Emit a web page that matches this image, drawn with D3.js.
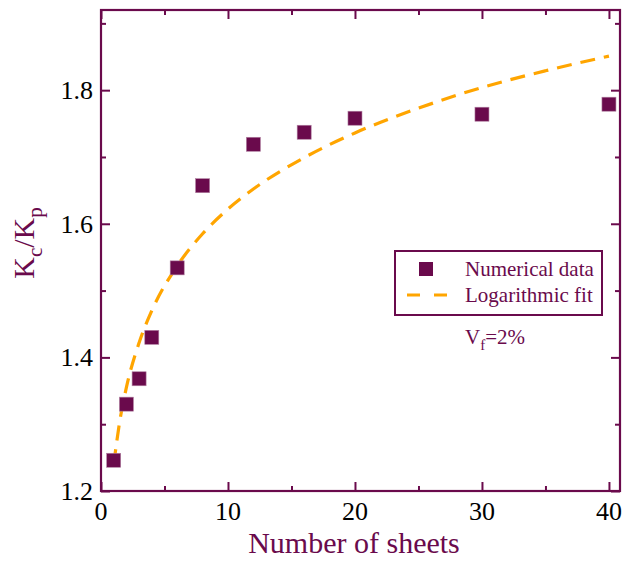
<!DOCTYPE html>
<html><head><meta charset="utf-8">
<script src="https://cdn.jsdelivr.net/npm/d3@7"></script>
<style>body{margin:0;background:#fff}svg{display:block}</style>
</head><body>
<script>
const sheets = [1, 2, 3, 4, 6, 8, 12, 16, 20, 30, 40];
const ratio = [1.246, 1.330, 1.368, 1.430, 1.534, 1.657, 1.719, 1.737, 1.758, 1.764, 1.779];
const fitX = [1, 1.5, 2, 3, 4, 6, 8, 10, 12, 16, 20, 25, 30, 35, 40];
const fitY = [1.240, 1.307, 1.355, 1.422, 1.470, 1.537, 1.585, 1.622, 1.652, 1.699, 1.736, 1.773, 1.804, 1.829, 1.851];
const xTicks = [0, 10, 20, 30, 40];
const xMinor = [5, 15, 25, 35];
const yTicks = [1.2, 1.4, 1.6, 1.8];
const yMinor = [1.3, 1.5, 1.7, 1.9];

const W = 626, H = 564;
const M = {l: 101, t: 10, r: 620, b: 491};
const col = "#6a0a4c", orange = "#ffa500";
const FONT = '"Liberation Serif", "Times New Roman", monospace';
const x = d3.scaleLinear().domain([0, 40.87]).range([M.l, M.r]);
const y = d3.scaleLinear().domain([1.2, 1.92]).range([M.b, M.t]);

const svg = d3.select("body").append("svg").attr("width", W).attr("height", H);

// fit curve
const line = d3.line().x((d, i) => x(fitX[i])).y(d => y(d)).curve(d3.curveMonotoneX);
svg.append("path").datum(fitY).attr("d", line).attr("fill", "none")
  .attr("stroke", orange).attr("stroke-width", 3.2).attr("stroke-dasharray", "15,9");

// data squares
const s = 14;
svg.selectAll("rect.pt").data(sheets).enter().append("rect").attr("class", "pt")
  .attr("x", d => x(d) - s / 2).attr("y", (d, i) => y(ratio[i]) - s / 2)
  .attr("width", s).attr("height", s).attr("fill", col)
  .attr("stroke", "#b07fa0").attr("stroke-width", 0.6);

// axes (ticks inward)
const tickLen = 9, minorLen = 5;
function axis(gen, ticks, minor, transform) {
  const g = svg.append("g").attr("transform", transform);
  g.call(gen.tickValues(ticks).tickSize(tickLen).tickFormat(""));
  g.select(".domain").remove();
  g.selectAll(".tick line").attr("stroke", col).attr("stroke-width", 2);
  g.selectAll("text").remove();
  const g2 = svg.append("g").attr("transform", transform);
  g2.call(gen.tickValues(minor).tickSize(minorLen).tickFormat(""));
  g2.select(".domain").remove();
  g2.selectAll(".tick line").attr("stroke", col).attr("stroke-width", 2);
  g2.selectAll("text").remove();
}
axis(d3.axisTop(x), xTicks, xMinor, `translate(0,${M.b})`);
axis(d3.axisBottom(x), xTicks, xMinor, `translate(0,${M.t})`);
axis(d3.axisRight(y), yTicks, yMinor, `translate(${M.l},0)`);
axis(d3.axisLeft(y), yTicks, yMinor, `translate(${M.r},0)`);

// tick labels
svg.append("g").selectAll("text").data(xTicks).enter().append("text")
  .attr("x", d => x(d)).attr("y", 520).attr("text-anchor", "middle")
  .style("font-family", FONT).style("font-size", "26px").attr("fill", "#000").text(d => d);
svg.append("g").selectAll("text").data(yTicks).enter().append("text")
  .attr("x", 93).attr("y", d => y(d) + 9).attr("text-anchor", "end")
  .style("font-family", FONT).style("font-size", "26px").attr("fill", "#000").text(d => d3.format(".1f")(d));

// frame
svg.append("rect").attr("x", M.l).attr("y", M.t).attr("width", M.r - M.l).attr("height", M.b - M.t)
  .attr("fill", "none").attr("stroke", col).attr("stroke-width", 2.2);

// axis titles
svg.append("text").attr("x", 354).attr("y", 553).attr("text-anchor", "middle")
  .style("font-family", FONT).style("font-size", "30px").attr("fill", col).text("Number of sheets");
const yl = svg.append("text").attr("transform", "translate(34,243) rotate(-90)")
  .style("font-family", FONT).attr("text-anchor", "middle").style("font-size", "30px").attr("fill", col);
yl.append("tspan").text("K");
yl.append("tspan").attr("dy", 8).style("font-size", "21px").text("c");
yl.append("tspan").attr("dy", -8).text("/K");
yl.append("tspan").attr("dy", 8).style("font-size", "21px").text("p");

// legend
const lg = svg.append("g");
lg.append("rect").attr("x", 395).attr("y", 251).attr("width", 207).attr("height", 64)
  .attr("fill", "#fff").attr("stroke", col).attr("stroke-width", 2);
lg.append("rect").attr("x", 426 - 7).attr("y", 269 - 7).attr("width", 14).attr("height", 14).attr("fill", col);
lg.append("line").attr("x1", 407).attr("x2", 447).attr("y1", 295).attr("y2", 295)
  .attr("stroke", orange).attr("stroke-width", 3.2).attr("stroke-dasharray", "13,14");
lg.append("text").attr("x", 465).attr("y", 276).style("font-family", FONT).style("font-size", "21px")
  .attr("fill", col).text("Numerical data");
lg.append("text").attr("x", 465).attr("y", 302).style("font-family", FONT).style("font-size", "21px")
  .attr("fill", col).text("Logarithmic fit");

const vf = svg.append("text").attr("x", 465).attr("y", 344).style("font-family", FONT)
  .style("font-size", "21px").attr("fill", col);
vf.append("tspan").text("V");
vf.append("tspan").attr("dy", 6).style("font-size", "15px").text("f");
vf.append("tspan").attr("dy", -6).text("=2%");
</script>
</body></html>
